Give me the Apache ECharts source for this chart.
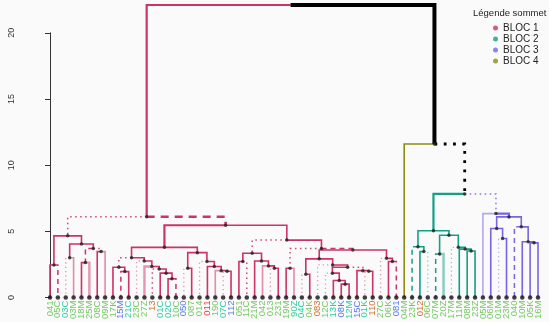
<!DOCTYPE html>
<html>
<head>
<meta charset="utf-8">
<script src="https://cdn.jsdelivr.net/npm/echarts@6/dist/echarts.min.js"></script>
<style>
  html, body { margin: 0; padding: 0; background: #fafafa; }
  #chart { width: 549px; height: 322px; }
</style>
</head>
<body>
<div id="chart"></div>
<script>
// Leaf labels, left to right
const leafLabels = ['041','05C','03C','03M','18M','25M','08C','09M','17K','15M','21C','23C','27Z','13','01C',
  '02C','10C','050','087','014','011','190','07C','112','051','11C','21M','042','013','231',
  '19M','90Z','04C','04K','083','12C','13K','08K','12M','15C','01K','110','27C','06K','081',
  '04M','23K','012','06C','07M','20Z','17M','11M','08M','23Z','05M','06M','01M','23M','040',
  '10M','05K','16M'];
// Label tone per leaf: g green, c cyan, b blue, o orange, r red
const leafTone = ['g','g','c','g','g','g','g','g','g','b','c','g','g','o','c',
  'c','g','b','g','g','r','g','c','b','g','g','g','g','g','g',
  'g','c','c','g','o','g','c','b','c','b','c','o','g','g','b',
  'g','g','o','g','g','g','g','g','g','g','g','g','g','g','g',
  'g','g','g'];
// Bloc (1..4) of each leaf
const leafBloc = [1,1,1,1,1,1,1,1,1,1,1,1,1,1,1,
  1,1,1,1,1,1,1,1,1,1,1,1,1,1,1,
  1,1,1,1,1,1,1,1,1,1,1,1,1,1,1,
  4,2,2,2,2,2,2,2,2,2,3,3,3,3,3,
  3,3,3];
// Agglomeration steps (hclust convention: -i = leaf i, +k = step k)
const mergeLeft  = [-1,-3,-5,-7,3,2,1,-10,-9,-16,-15,-14,-13,-12,9,-18,-23,-22,-21,-20,16,15,
  -25,-29,-28,-27,23,-31,-33,-38,-37,-36,-41,-40,32,-35,29,-44,-43,37,28,27,22,7,
  -48,-47,-50,-54,-53,-52,47,46,-58,-57,-62,-61,-60,54,-56,52,-46,44];
const mergeRight = [-2,-4,-6,-8,4,5,6,-11,8,-17,10,11,12,13,14,-19,-24,17,18,19,20,21,
  -26,-30,24,25,26,-32,-34,-39,30,31,-42,33,34,35,36,-45,38,39,40,41,42,43,
  -49,45,-51,-55,48,49,50,51,-59,53,-63,55,56,57,58,59,60,61];
const mergeHeight = [2.46,3.01,2.64,3.47,3.71,4.04,4.66,1.96,2.29,1.41,1.84,2.15,2.34,2.76,3.01,2.21,1.98,2.03,2.34,2.72,3.39,3.79,
  2.72,2.21,2.39,2.76,3.34,2.21,1.76,1.01,1.29,1.84,1.98,2.03,2.29,2.46,2.92,2.72,2.96,3.59,3.71,4.34,5.46,6.10,
  3.47,3.84,3.29,3.51,3.66,3.79,4.71,5.05,4.46,5.21,4.13,4.21,5.34,6.09,6.34,7.83,11.6,22.1];
const blocNames = ['BLOC 1','BLOC 2','BLOC 3','BLOC 4'];
const yTicks = [0, 5, 10, 15, 20];

// ---- styling ----
const blocColors = ['#cc3366', '#14a085', '#7766e0', '#8c8c14'];
const toneColors = { g: '#74c862', c: '#2ccf9e', b: '#5a78ee', o: '#d2702c', r: '#f03434' };
const looks = {
  s: { w: 1.6, a: 1 },
  t: { w: 2.2, a: 1 },
  l: { w: 1.6, a: 0.55 },
  w: { w: 2.4, a: 0.5 },
  d: { w: 1.5, a: 1, dash: [5, 4] },
  D: { w: 2.6, a: 1, dash: [8, 6] },
  o: { w: 1.5, a: 0.9, dash: [1.5, 3.5] },
  p: { w: 1.3, a: 0.5, dash: [1.3, 3] },
  K: { w: 4, a: 1 },
  B: { w: 2.8, a: 1, dash: [2.8, 6.5] }
};
// Branch look keyed by child: L<i> leaf (0-based), N<k> step (1-based)
const edgeLook = {
  N44: 't', N7: 'o', N43: 'D', L1: 'd', L2: 'p', L3: 'l', N3: 'd', L5: 'w', N4: 'o', L7: 'l',
  N22: 't', N9: 'o', L9: 'd', L11: 'p', L12: 'w', L13: 'o', L16: 'd', L17: 'p', L19: 'p',
  L21: 'l', L22: 'p', N27: 'o', L25: 'o', L27: 'l', L28: 'p', N28: 'o', L31: 'l', N40: 'd',
  L32: 'p', L34: 'p', L35: 'p', N34: 'o', L40: 'p', L42: 'p', L44: 'd',
  N52: 't', L46: 'd', L48: 'p', L49: 'd', L50: 'w', L51: 'p',
  N59: 'o', L55: 'l', N58: 't', L57: 'p', L59: 'd',
  N61: 'K', N60: 'B'
};

function rgba(hex, a) {
  const n = parseInt(hex.slice(1), 16);
  return 'rgba(' + (n >> 16) + ',' + ((n >> 8) & 255) + ',' + (n & 255) + ',' + a + ')';
}

// ---- layout of the tree ----
const nodeX = [], nodeBlocs = [];
function childX(c) { return c < 0 ? -c - 1 : nodeX[c - 1]; }
function childH(c) { return c < 0 ? 0 : mergeHeight[c - 1]; }
function childBlocs(c) { return c < 0 ? new Set([leafBloc[-c - 1]]) : nodeBlocs[c - 1]; }
function childKey(c) { return c < 0 ? 'L' + (-c - 1) : 'N' + c; }
mergeLeft.forEach((l, k) => {
  const r = mergeRight[k];
  nodeX[k] = (childX(l) + childX(r)) / 2;
  nodeBlocs[k] = new Set([...childBlocs(l), ...childBlocs(r)]);
});

const edges = [];
mergeLeft.forEach((l, k) => {
  [l, mergeRight[k]].forEach(c => {
    const bl = childBlocs(c);
    const color = bl.size === 1 ? blocColors[[...bl][0] - 1] : '#000000';
    const look = looks[edgeLook[childKey(c)] || 's'];
    edges.push({ value: [nodeX[k], mergeHeight[k], childX(c), childH(c)], color, look });
  });
});

const nodeDots = mergeLeft.slice(0, -1).map((_, k) => [nodeX[k], mergeHeight[k]]);
const leafDots = leafLabels.map((_, i) => [i, 0]);

const chart = echarts.init(document.getElementById('chart'));
const font = 'Liberation Sans, Arial, sans-serif';
chart.setOption({
  backgroundColor: '#fafafa',
  animation: false,
  textStyle: { fontFamily: font },
  title: {
    text: 'Légende sommet', left: 468, top: 3,
    textStyle: { fontSize: 9.5, fontWeight: 'normal', color: '#222', fontFamily: font }
  },
  legend: {
    data: blocNames, orient: 'vertical', left: 488, top: 18,
    icon: 'circle', itemWidth: 5, itemHeight: 5, itemGap: 1,
    textStyle: { fontSize: 10, color: '#222', fontFamily: font }
  },
  grid: { left: 50, right: 11, top: 32.8, bottom: 22.5 },
  xAxis: [
    { type: 'value', min: 0, max: leafLabels.length - 1, show: false, position: 'top' },
    {
      type: 'category', data: leafLabels, boundaryGap: false, position: 'bottom',
      axisLine: { show: false }, axisTick: { show: false }, splitLine: { show: false },
      axisLabel: {
        interval: 0, rotate: 90, margin: 3, fontSize: 9.5, fontFamily: font,
        color: (v, i) => toneColors[leafTone[i]]
      }
    }
  ],
  yAxis: {
    type: 'value', min: yTicks[0], max: yTicks[yTicks.length - 1], interval: 5,
    position: 'left', offset: 24,
    axisLine: { show: true, lineStyle: { color: '#333', width: 1 } },
    axisTick: { show: true, length: 5, lineStyle: { color: '#333' } },
    splitLine: { show: false },
    axisLabel: { rotate: 90, margin: 10, fontSize: 9, color: '#333', fontFamily: font }
  },
  series: [
    {
      type: 'custom', xAxisIndex: 0, yAxisIndex: 0, clip: false, silent: true,
      encode: { x: [0, 2], y: [1, 3] },
      data: edges.map(e => e.value),
      renderItem: (params, api) => {
        const e = edges[params.dataIndex];
        const p0 = api.coord([api.value(0), api.value(1)]);
        const p1 = api.coord([api.value(2), api.value(1)]);
        const p2 = api.coord([api.value(2), api.value(3)]);
        return {
          type: 'polyline',
          shape: { points: [p0, p1, p2] },
          style: {
            stroke: rgba(e.color, e.look.a), fill: null,
            lineWidth: e.look.w, lineDash: e.look.dash || null, lineCap: 'butt', lineJoin: 'miter'
          }
        };
      }
    },
    {
      type: 'scatter', xAxisIndex: 0, data: nodeDots, symbol: 'circle', symbolSize: 3.5,
      itemStyle: { color: '#222' }, silent: true, z: 3
    },
    {
      type: 'scatter', xAxisIndex: 0, data: leafDots, symbol: 'circle', symbolSize: 4.5,
      itemStyle: { color: '#111' }, silent: true, z: 3
    },
    ...blocNames.map((n, i) => ({
      type: 'scatter', name: n, xAxisIndex: 0, data: [], itemStyle: { color: blocColors[i] }
    }))
  ]
});
</script>
</body>
</html>
